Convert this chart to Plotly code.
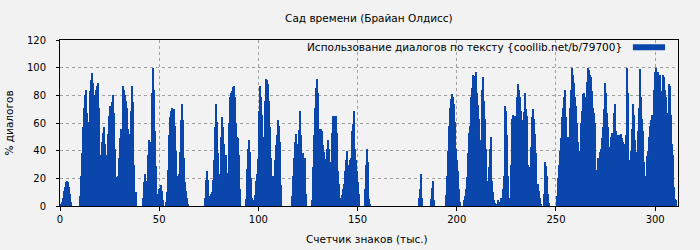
import numpy as np
import plotly.graph_objects as go

title = "Сад времени (Брайан Олдисс)"
x_title = "Счетчик знаков (тыс.)"
y_title = "% диалогов"
legend_label = "Использование диалогов по тексту {coollib.net/b/79700}"
step = 0.5  # thousand characters per bar

# dialogue share per 500 characters, in text order
pct_000 = [0, 1, 3, 6, 11, 14, 17, 18, 17, 14, 9, 3,
           0, 0, 0, 0, 0, 0, 0, 0]
pct_010 = [7, 22, 38, 57, 71, 80, 84, 67, 35, 61, 83, 91, 96, 89, 76, 80, 84, 87, 89, 71,
           35, 37, 46, 53, 57, 45, 22, 37, 52, 65, 72, 71, 75, 80, 67, 41, 21, 7, 22, 35,
           49, 56, 43, 72, 87, 84, 80, 76, 71, 56, 35, 52, 69, 87, 75, 30, 10, 10,
           0, 0, 0, 0, 0, 0]
pct_042 = [6, 17, 23, 18, 14, 37, 48, 43, 46, 82, 100, 84, 54, 29, 9, 7, 12, 13, 15, 11, 4,
           0, 0,
           3, 10, 26, 51, 64, 69, 71, 70, 70, 58, 40, 22, 14,
           23, 39, 62, 74, 62, 35, 17, 11, 6, 1,
           0, 0, 0, 0, 0, 0, 0, 0, 0, 0, 0, 0, 0, 0, 0, 0]
pct_073 = [6, 19, 25, 19, 7, 6, 9, 10, 19, 33, 57, 74, 61, 38, 22, 23, 50, 64, 57, 45,
           37, 37, 24, 24, 60, 79, 82, 83, 86, 87, 79, 60, 50, 49, 37, 12,
           0, 0, 0, 0, 0]
pct_093 = [5, 15, 27, 41, 48, 39, 20, 6, 2, 4, 8, 18, 23, 34, 69, 87, 79, 66, 50, 35,
           76, 92, 91, 88, 76, 57, 35, 12, 22, 22, 33, 44, 51, 62, 58, 46, 15,
           0, 0, 0, 0, 0, 0, 0, 0, 0, 0,
           7, 22, 35, 46, 52, 45, 36, 55, 69, 51, 34, 38, 26, 35, 9,
           0, 0, 0, 0, 0]
pct_127 = [4, 28, 51, 71, 85, 92, 82, 46, 56, 56, 54, 44, 39, 34, 33, 41, 48, 41, 32, 32,
           53, 65, 65, 65, 65, 53, 25, 16, 3, 6, 8, 12, 16, 25, 33, 40, 30, 26, 33, 35,
           54, 59, 69, 41, 33, 25, 17, 9,
           0, 0, 0, 0, 0,
           12, 30, 41, 32, 12, 5, 1]
pct_157 = [0, 0, 0, 0, 0, 0, 0, 0, 0, 0, 0, 0, 0, 0, 0, 0, 0, 0, 0, 0, 0, 0, 0, 0,
           0, 0, 0, 0, 0, 0, 0, 0, 0, 0, 0, 0, 0, 0, 0, 0, 0, 0, 0, 0, 0, 0, 0, 0,
           6, 12, 23, 6,
           0, 0, 0, 0, 0, 0, 0, 0,
           5, 13, 18, 4,
           0, 0, 0, 0, 0, 0, 0, 0, 0, 0, 0]
pct_194 = [8, 22, 40, 58, 71, 77, 81, 79, 74, 61, 41, 33, 25, 12, 3,
           0, 0, 0]
pct_203 = [4, 7, 12, 21, 38, 53, 58, 79, 85, 95, 94, 89, 97, 82, 73, 63, 44, 48, 84, 93,
           76, 63, 41, 18, 14, 28, 41, 50, 33, 18, 10, 4, 2, 1, 1, 4, 1, 3, 6, 4,
           12, 22, 72, 69, 51, 22, 6, 2, 30, 63, 66, 59, 65, 62, 79, 88, 84, 79, 69, 62,
           55, 68, 82, 70, 65, 30, 12, 28, 43, 64, 70, 63, 52, 38, 15, 16, 11, 6, 1, 0,
           0, 9, 32, 29, 22, 9, 2,
           0, 0, 0, 0, 0, 0, 0]
pct_250 = [7, 20, 30, 40, 49, 64, 71, 79, 84, 64, 38, 50, 38, 71, 84, 100, 95, 89, 79, 72,
           60, 46, 15, 40, 60, 69, 81, 82, 70, 79, 90, 100, 98, 95, 93, 83, 71, 67, 60, 26,
           10, 35, 28, 39, 41, 49, 57, 70, 89, 82, 67, 57, 38, 43, 50, 53, 47, 67, 74, 61,
           54, 51, 50, 51, 48, 52, 49, 46, 37, 45, 51, 100, 82, 33, 30, 40, 56, 74, 66, 48,
           30, 39, 54, 71, 99, 79, 63, 54, 32, 11, 22, 36, 40, 50, 58, 62, 66, 66, 84, 97,
           100, 93, 97, 85, 95, 80, 83, 95, 93, 84, 79, 67, 48, 88, 87, 66, 45, 37, 14, 5, 4]

values = (pct_000 + pct_010 + pct_042 + pct_073 + pct_093 + pct_127 +
          pct_157 + pct_194 + pct_203 + pct_250)
xs = np.arange(len(values)) * step

x_ticks = [0, 50, 100, 150, 200, 250, 300]
y_ticks = [0, 20, 40, 60, 80, 100, 120]

BLUE = "#0a46ab"
BG = "#f2f2f2"
GRID = "#a0a0a0"
FONT = "DejaVu Sans"

fig = go.Figure()
fig.add_trace(go.Bar(x=xs, y=values, width=step, marker=dict(color=BLUE, line=dict(width=0)),
                     showlegend=False))

fig.update_layout(
    width=700, height=250,
    margin=dict(l=60, r=22, t=40, b=44, autoexpand=False),
    paper_bgcolor=BG, plot_bgcolor=BG,
    font=dict(family=FONT, size=10.5, color="#000000"),
    bargap=0,
    title=dict(text=title, x=0.527, xanchor="center", y=0.928, yanchor="middle",
               font=dict(family=FONT, size=10.5)),
    xaxis=dict(range=[0, 311.5], tickvals=x_ticks, ticks="outside", ticklen=4,
               tickcolor="#000", tickfont=dict(size=10),
               showline=True, linecolor="#000", linewidth=1, mirror=True,
               showgrid=True, gridcolor=GRID, griddash="3px,3px", gridwidth=1,
               zeroline=False, automargin=False),
    yaxis=dict(range=[0, 120], tickvals=y_ticks, ticks="outside", ticklen=3,
               tickcolor="#000", tickfont=dict(size=10), ticklabelstandoff=8,
               showline=True, linecolor="#000", linewidth=1, mirror=True,
               showgrid=True, gridcolor=GRID, griddash="3px,3px", gridwidth=1,
               zeroline=False, automargin=False),
)

# axis titles
fig.add_annotation(text=x_title, xref="paper", yref="paper", x=0.497, y=-0.199,
                   xanchor="center", yanchor="middle", showarrow=False)
fig.add_annotation(text=y_title, xref="paper", yref="paper", x=-0.0833, y=0.5,
                   xanchor="center", yanchor="middle", textangle=-90, showarrow=False)

# legend drawn as text + swatch in the top-right corner of the plot area
fig.add_annotation(text=legend_label, xref="paper", yref="paper", x=0.913, y=0.956,
                   xanchor="right", yanchor="middle", showarrow=False,
                   font=dict(family=FONT, size=10.5, color="#000"))
fig.add_shape(type="rect", xref="paper", yref="paper", x0=0.927, x1=0.979,
              y0=0.938, y1=0.974, fillcolor=BLUE, line=dict(width=0))

fig.write_html("out.html")
